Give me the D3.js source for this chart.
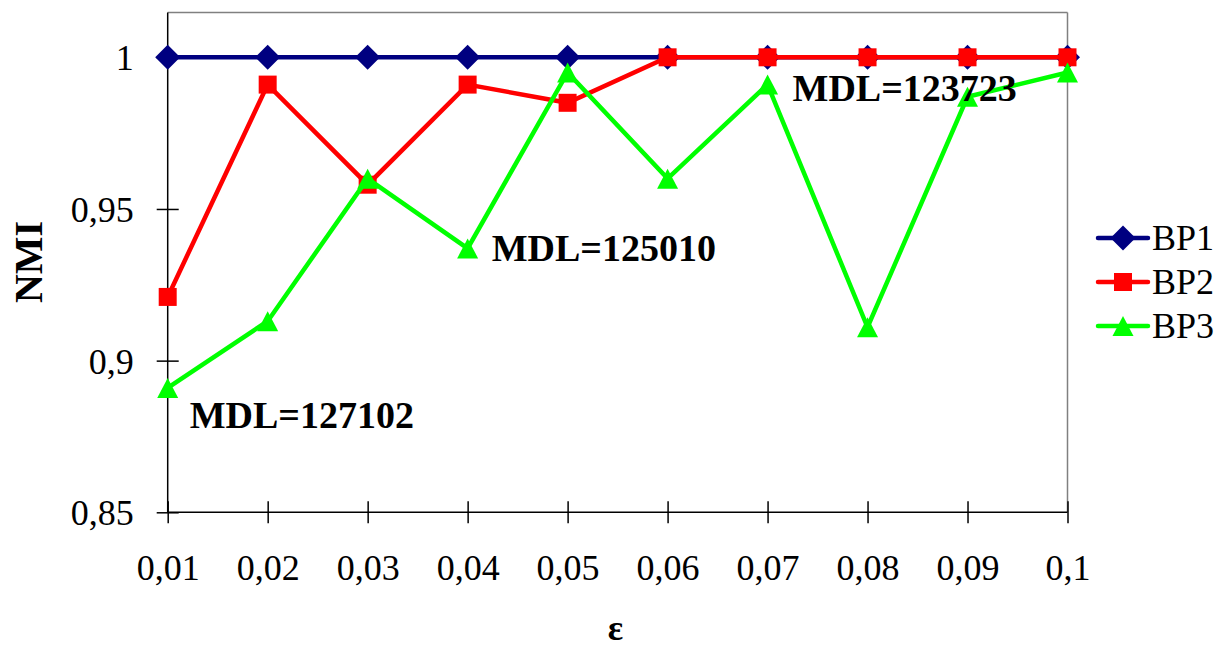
<!DOCTYPE html>
<html>
<head>
<meta charset="utf-8">
<script src="https://cdn.jsdelivr.net/npm/d3@7"></script>
<style>
  html, body { margin: 0; padding: 0; background: #fff; }
  svg { display: block; }
  svg text { font-family: "Times New Roman", "Liberation Serif", Tinos, serif; }
</style>
</head>
<body>
<svg id="chart" width="1223" height="647"></svg>
<script>
const categories = ["0,01", "0,02", "0,03", "0,04", "0,05", "0,06", "0,07", "0,08", "0,09", "0,1"];
const bp1 = [1, 1, 1, 1, 1, 1, 1, 1, 1, 1];
const bp2 = [0.921, 0.991, 0.958, 0.991, 0.985, 1, 1, 1, 1, 1];
const bp3 = [0.891, 0.913, 0.960, 0.937, 0.995, 0.960, 0.991, 0.911, 0.987, 0.995];
const yTicks = [0.85, 0.9, 0.95, 1];
const yTickLabels = ["0,85", "0,9", "0,95", "1"];
const seriesNames = ["BP1", "BP2", "BP3"];
const annotations = [
  { text: "MDL=127102", cat: "0,01", value: 0.891 },
  { text: "MDL=125010", cat: "0,04", value: 0.937 },
  { text: "MDL=123723", cat: "0,07", value: 0.991 }
];

const FONT = '"Times New Roman", "Liberation Serif", Tinos, serif';
const svg = d3.select("#chart");
const pLeft = 167.7, pRight = 1067.5, pTop = 12.5, pBottom = 512.3;

const x = d3.scalePoint().domain(categories).range([pLeft, pRight]).padding(0);
const y = d3.scaleLinear().domain([0.85, 1]).range([pBottom, 57.3]);

// frame: grey top and right
svg.append("line").attr("x1", pLeft).attr("x2", pRight).attr("y1", pTop).attr("y2", pTop)
  .attr("stroke", "#808080").attr("stroke-width", 1.5);
svg.append("line").attr("x1", pRight).attr("x2", pRight).attr("y1", pTop).attr("y2", pBottom)
  .attr("stroke", "#808080").attr("stroke-width", 1.5);

// Y axis
const yAxis = svg.append("g").attr("transform", `translate(${pLeft},0)`)
  .call(d3.axisLeft(y).tickValues(yTicks).tickSize(11).tickSizeOuter(0)
    .tickFormat((d, i) => yTickLabels[i]));
yAxis.attr("font-family", null).attr("font-size", null);
yAxis.select(".domain").attr("d", `M0,${pTop}V${pBottom}`).attr("stroke", "#000").attr("stroke-width", 1.5);
yAxis.selectAll(".tick line").attr("x1", 11).attr("x2", -11).attr("stroke", "#000").attr("stroke-width", 1.5);
yAxis.selectAll(".tick text").attr("x", -34).attr("dy", "0.35em")
  .style("font-size", "36px").style("font-family", FONT).attr("fill", "#000");

// X axis
const xAxis = svg.append("g").attr("transform", `translate(0,${pBottom})`)
  .call(d3.axisBottom(x).tickSize(11).tickSizeOuter(0));
xAxis.attr("font-family", null).attr("font-size", null);
xAxis.select(".domain").attr("d", `M${pLeft},0H${pRight}`).attr("stroke", "#000").attr("stroke-width", 1.5);
xAxis.selectAll(".tick line").attr("y1", -11).attr("y2", 11).attr("stroke", "#000").attr("stroke-width", 1.5);
xAxis.selectAll(".tick text").attr("y", 68).attr("dy", 0)
  .style("font-size", "36px").style("font-family", FONT).attr("fill", "#000");

// Axis titles
svg.append("text").attr("transform", `translate(42,262) rotate(-90)`)
  .attr("text-anchor", "middle").style("font-family", FONT).style("font-size", "40px").style("font-weight", "bold").text("NMI");
svg.append("text").attr("x", 615.5).attr("y", 640)
  .attr("text-anchor", "middle").style("font-family", FONT).style("font-size", "36px").style("font-weight", "bold").text("ε");

// markers
const markerPaths = {
  diamond: "M0,-12.5L12.5,0L0,12.5L-12.5,0Z",
  square: "M-9,-9H9V9H-9Z",
  triangle: "M0,-10L10.5,10L-10.5,10Z"
};
const series = [
  { name: seriesNames[0], values: bp1, color: "#000080", marker: "diamond" },
  { name: seriesNames[1], values: bp2, color: "#FF0000", marker: "square" },
  { name: seriesNames[2], values: bp3, color: "#00FF00", marker: "triangle" }
];

const line = d3.line().x((d, i) => x(categories[i])).y(d => y(d));

series.forEach(s => {
  svg.append("path").datum(s.values).attr("d", line)
    .attr("fill", "none").attr("stroke", s.color).attr("stroke-width", 4.5).attr("stroke-linejoin", "miter");
  svg.append("g").selectAll("path").data(s.values).join("path")
    .attr("d", markerPaths[s.marker])
    .attr("transform", (d, i) => `translate(${x(categories[i])},${y(d)})`)
    .attr("fill", s.color);
});

// annotations
const annOffsets = [[22, 40], [24, 13], [25, 16]];
annotations.forEach((a, i) => {
  svg.append("text").attr("x", x(a.cat) + annOffsets[i][0]).attr("y", y(a.value) + annOffsets[i][1])
    .style("font-family", FONT).style("font-size", "38px").style("font-weight", "bold").attr("fill", "#000").text(a.text);
});

// legend
const legend = svg.append("g");
series.forEach((s, i) => {
  const ly = 238 + i * 44;
  legend.append("line").attr("x1", 1098).attr("x2", 1148).attr("y1", ly).attr("y2", ly)
    .attr("stroke", s.color).attr("stroke-width", 4.5).attr("stroke-linecap", "round");
  legend.append("path").attr("d", markerPaths[s.marker]).attr("transform", `translate(1123,${ly})`).attr("fill", s.color);
  legend.append("text").attr("x", 1152).attr("y", ly + 12).style("font-family", FONT).style("font-size", "36px").attr("fill", "#000").text(s.name);
});
</script>
</body>
</html>
